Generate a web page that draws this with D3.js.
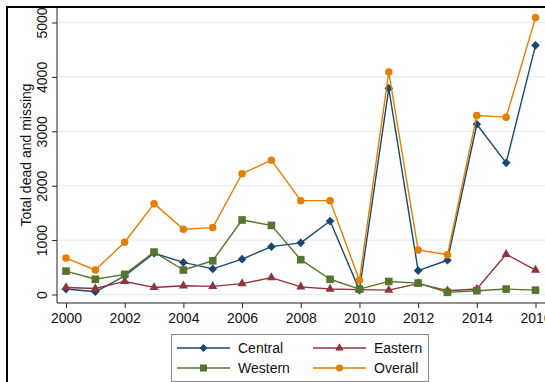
<!DOCTYPE html>
<html>
<head>
<meta charset="utf-8">
<script src="https://cdn.jsdelivr.net/npm/d3@7"></script>
<style>
  html, body { margin: 0; padding: 0; background: #fff; }
  svg { display: block; font-family: "Liberation Sans", Arial, sans-serif; }
</style>
</head>
<body>
<svg id="chart" width="545" height="382"></svg>
<script>
// Yearly totals of dead and missing, by region
const years = [2000, 2001, 2002, 2003, 2004, 2005, 2006, 2007, 2008,
               2009, 2010, 2011, 2012, 2013, 2014, 2015, 2016];
const central = [100, 50, 340, 760, 590, 470, 650, 880, 950,
                 1350, 80, 3790, 440, 630, 3130, 2420, 4580];
const eastern = [130, 110, 240, 130, 160, 150, 200, 310, 140,
                 100, 90, 80, 200, 70, 100, 740, 450];
const western = [430, 280, 370, 780, 450, 620, 1370, 1270, 640,
                 280, 100, 240, 210, 40, 70, 100, 80];
const overall = [670, 450, 960, 1670, 1200, 1230, 2220, 2470, 1725,
                 1725, 260, 4090, 820, 730, 3290, 3260, 5090];
const xTicks = [2000, 2002, 2004, 2006, 2008, 2010, 2012, 2014, 2016];
const yTicks = [0, 1000, 2000, 3000, 4000, 5000];
const yTitle = "Total dead and missing";

const series = [
  { name: "Central", values: central, color: "#1a476f", symbol: d3.symbolDiamond2, size: 48 },
  { name: "Eastern", values: eastern, color: "#90353b", symbol: d3.symbolTriangle, size: 36 },
  { name: "Western", values: western, color: "#55752f", symbol: d3.symbolSquare, size: 58 },
  { name: "Overall", values: overall, color: "#e37e00", symbol: d3.symbolCircle, size: 44 }
];
// series are drawn in order, so Overall ends up on top
const drawOrder = ["Central", "Eastern", "Western", "Overall"];

const svg = d3.select("#chart");

// outer graph frame
svg.append("rect")
  .attr("x", 7).attr("y", 7)
  .attr("width", 600).attr("height", 420)
  .attr("fill", "#fff")
  .attr("stroke", "#000").attr("stroke-width", 2);

const plotLeft = 57, plotTop = 8, plotBottom = 303;

const x = d3.scaleLinear().domain([2000, 2016]).range([66, 535.5]);
const y = d3.scaleLinear().domain([0, 5000]).range([294.5, 22.5]);

// horizontal grid lines
svg.append("g")
  .selectAll("line")
  .data(yTicks)
  .join("line")
  .attr("x1", plotLeft + 1).attr("x2", 560)
  .attr("y1", d => y(d)).attr("y2", d => y(d))
  .attr("stroke", "#e6eef1").attr("stroke-width", 1.2);

// y axis
const yAxis = d3.axisLeft(y).tickValues(yTicks).tickSize(5).tickPadding(4).tickFormat(d3.format("d"));
const gy = svg.append("g").attr("transform", `translate(${plotLeft},0)`).call(yAxis);
gy.select(".domain").attr("d", `M0,${plotTop}V${plotBottom}`).attr("stroke", "#222");
gy.selectAll(".tick line").attr("stroke", "#222");
gy.selectAll(".tick text")
  .attr("font-size", 14).attr("fill", "#111")
  .attr("text-anchor", "middle")
  .attr("x", null)
  .attr("transform", "translate(-15,0) rotate(-90)")
  .attr("dy", "0.35em");

// x axis
const xAxis = d3.axisBottom(x).tickValues(xTicks).tickSize(5).tickPadding(5).tickFormat(d3.format("d"));
const gx = svg.append("g").attr("transform", `translate(0,${plotBottom})`).call(xAxis);
gx.select(".domain").attr("d", `M${plotLeft},0H560`).attr("stroke", "#222");
gx.selectAll(".tick line").attr("stroke", "#222");
gx.selectAll(".tick text").attr("font-size", 14).attr("fill", "#111");

// y axis title
svg.append("text")
  .attr("transform", `translate(26,155) rotate(-90)`)
  .attr("text-anchor", "middle")
  .attr("dy", "0.35em")
  .attr("font-size", 14).attr("fill", "#111")
  .text(yTitle);

// series lines and markers
const line = d3.line().x((d, i) => x(years[i])).y(d => y(d));
const byName = Object.fromEntries(series.map(s => [s.name, s]));
drawOrder.forEach(name => {
  const s = byName[name];
  const g = svg.append("g");
  g.append("path")
    .attr("d", line(s.values))
    .attr("fill", "none")
    .attr("stroke", s.color).attr("stroke-width", 1.4)
    .attr("stroke-linejoin", "round");
  g.selectAll("path.pt")
    .data(s.values)
    .join("path")
    .attr("class", "pt")
    .attr("transform", (d, i) => `translate(${x(years[i])},${y(d)})`)
    .attr("d", d3.symbol().type(s.symbol).size(s.size))
    .attr("fill", s.color);
});

// legend
const legend = svg.append("g");
legend.append("rect")
  .attr("x", 171.5).attr("y", 334.5)
  .attr("width", 257).attr("height", 47)
  .attr("fill", "#fff").attr("stroke", "#8a8a8a").attr("stroke-width", 1);
const legendItems = [
  { s: byName["Central"], col: 0, row: 0 },
  { s: byName["Eastern"], col: 1, row: 0 },
  { s: byName["Western"], col: 0, row: 1 },
  { s: byName["Overall"], col: 1, row: 1 }
];
legendItems.forEach(({ s, col, row }) => {
  const lx = col === 0 ? 177 : 313;
  const ly = 348 + row * 20;
  const g = legend.append("g");
  g.append("line")
    .attr("x1", lx).attr("x2", lx + 53)
    .attr("y1", ly).attr("y2", ly)
    .attr("stroke", s.color).attr("stroke-width", 1.4);
  g.append("path")
    .attr("transform", `translate(${lx + 26.5},${ly})`)
    .attr("d", d3.symbol().type(s.symbol).size(s.size * 0.85))
    .attr("fill", s.color);
  g.append("text")
    .attr("x", lx + 61).attr("y", ly)
    .attr("dy", "0.35em")
    .attr("font-size", 14).attr("fill", "#111")
    .text(s.name);
});
</script>
</body>
</html>
